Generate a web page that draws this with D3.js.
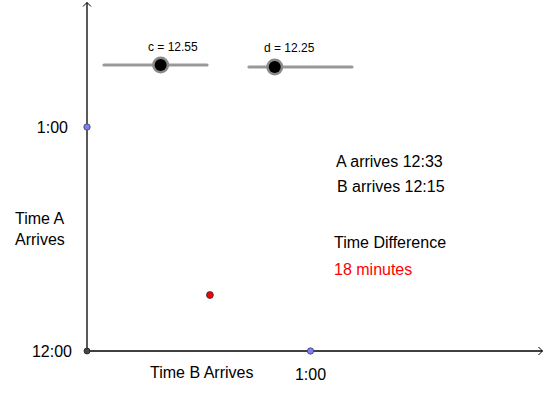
<!DOCTYPE html>
<html>
<head>
<meta charset="utf-8">
<script src="https://cdn.jsdelivr.net/npm/d3@7"></script>
<style>
  body { margin: 0; background: #fff; }
  svg { display: block; font-family: "Liberation Sans", Arial, sans-serif; }
</style>
</head>
<body>
<svg></svg>
<script>
// values, in minutes after 12:00
const arriveA = 33, arriveB = 15;
const sliderNames = ["c", "d"];
const sliderValues = [12.55, 12.25];
const xTicks = [60], xTickLabels = ["1:00"];
const yTicks = [60], yTickLabels = ["1:00"];
const originLabel = "12:00";
const infoLines = ["A arrives 12:33", "B arrives 12:15"];
const diffTitle = "Time Difference";
const diffText = "18 minutes";

const svgWidth = 545, svgHeight = 395;
const svg = d3.select("svg").attr("width", svgWidth).attr("height", svgHeight);

const x = d3.scaleLinear().domain([0, 60]).range([87, 310.5]);
const y = d3.scaleLinear().domain([0, 60]).range([351, 127]);

// axes
const xEnd = x.invert(542.5), yEnd = y.invert(2.5);
svg.append("line")
    .attr("x1", x(0)).attr("y1", y(0)).attr("x2", x(xEnd)).attr("y2", y(0))
    .attr("stroke", "#000").attr("stroke-width", 1.3);
svg.append("line")
    .attr("x1", x(0)).attr("y1", y(0)).attr("x2", x(0)).attr("y2", y(yEnd))
    .attr("stroke", "#000").attr("stroke-width", 1.3);
svg.append("path")
    .attr("d", `M${x(xEnd) - 4},${y(0) - 4}L${x(xEnd)},${y(0)}L${x(xEnd) - 4},${y(0) + 4}`)
    .attr("fill", "none").attr("stroke", "#000").attr("stroke-width", 1);
svg.append("path")
    .attr("d", `M${x(0) - 4},${y(yEnd) + 4}L${x(0)},${y(yEnd)}L${x(0) + 4},${y(yEnd) + 4}`)
    .attr("fill", "none").attr("stroke", "#000").attr("stroke-width", 1);

// axis labels
svg.append("text").attr("x", 15).attr("y", 224).attr("font-size", 16).text("Time A");
svg.append("text").attr("x", 15).attr("y", 245).attr("font-size", 16).text("Arrives");
svg.append("text").attr("x", 150).attr("y", 378).attr("font-size", 16).text("Time B Arrives");

svg.selectAll(".ytl").data(yTicks).enter().append("text")
    .attr("x", 68).attr("y", d => y(d) + 6)
    .attr("text-anchor", "end").attr("font-size", 16)
    .text((d, i) => yTickLabels[i]);
svg.append("text").attr("x", 72).attr("y", y(0) + 6)
    .attr("text-anchor", "end").attr("font-size", 16).text(originLabel);
svg.selectAll(".xtl").data(xTicks).enter().append("text")
    .attr("x", d => x(d)).attr("y", 380)
    .attr("text-anchor", "middle").attr("font-size", 16)
    .text((d, i) => xTickLabels[i]);

// tick points
svg.selectAll(".xp").data(xTicks).enter().append("circle")
    .attr("cx", d => x(d)).attr("cy", y(0)).attr("r", 3.2)
    .attr("fill", "#7d7dff").attr("stroke", "#444").attr("stroke-width", 0.8);
svg.selectAll(".yp").data(yTicks).enter().append("circle")
    .attr("cx", x(0)).attr("cy", d => y(d)).attr("r", 3.2)
    .attr("fill", "#7d7dff").attr("stroke", "#444").attr("stroke-width", 0.8);
svg.append("circle").attr("cx", x(0)).attr("cy", y(0)).attr("r", 3)
    .attr("fill", "#444").attr("stroke", "#222").attr("stroke-width", 0.8);

// the point
svg.append("circle").attr("cx", x(arriveA)).attr("cy", y(arriveB)).attr("r", 3.4)
    .attr("fill", "#ff0000").attr("stroke", "#333").attr("stroke-width", 0.9);

// sliders
const sliderPos = [{ x0: 104, x1: 207, y: 65, ly: 51, lx: 148 },
                   { x0: 249, x1: 352, y: 67, ly: 52, lx: 264 }];
sliderNames.forEach((name, i) => {
    const p = sliderPos[i];
    const s = d3.scaleLinear().domain([12, 13]).range([p.x0, p.x1]);
    const g = svg.append("g");
    g.append("line").attr("x1", s(12)).attr("x2", s(13)).attr("y1", p.y).attr("y2", p.y)
        .attr("stroke", "#999").attr("stroke-width", 3.2).attr("stroke-linecap", "round");
    g.append("circle").attr("cx", s(sliderValues[i])).attr("cy", p.y).attr("r", 8.5)
        .attr("fill", "#8a8a8a");
    g.append("circle").attr("cx", s(sliderValues[i])).attr("cy", p.y).attr("r", 6)
        .attr("fill", "#000");
    g.append("text").attr("x", p.lx).attr("y", p.ly).attr("font-size", 12)
        .text(`${name} = ${sliderValues[i]}`);
});

// info text
svg.selectAll(".info").data(infoLines).enter().append("text")
    .attr("x", (d, i) => 336 + i).attr("y", (d, i) => 167 + i * 25)
    .attr("font-size", 16).text(d => d);
svg.append("text").attr("x", 334).attr("y", 248).attr("font-size", 16).text(diffTitle);
svg.append("text").attr("x", 334).attr("y", 275).attr("font-size", 16)
    .attr("fill", "#ff0000").text(diffText);
</script>
</body>
</html>
